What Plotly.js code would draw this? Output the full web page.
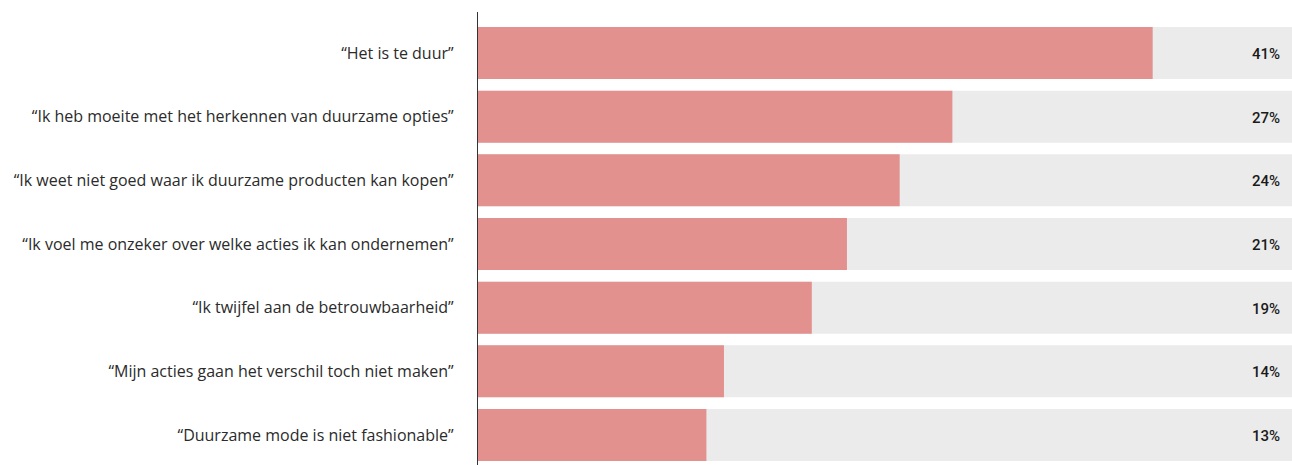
<!DOCTYPE html>
<html>
<head>
<meta charset="utf-8">
<script src="https://cdn.plot.ly/plotly-3.0.1.min.js"></script>
<style>html,body{margin:0;padding:0;background:#fff;}#chart{width:1292px;height:465px;}</style>
</head>
<body>
<div id="chart"></div>
<script>
const categories = [
  "“Het is te duur”",
  "“Ik heb moeite met het herkennen van duurzame opties”",
  "“Ik weet niet goed waar ik duurzame producten kan kopen”",
  "“Ik voel me onzeker over welke acties ik kan ondernemen”",
  "“Ik twijfel aan de betrouwbaarheid”",
  "“Mijn acties gaan het verschil toch niet maken”",
  "“Duurzame mode is niet fashionable”"
];
// bar lengths as drawn in the picture
const barValues = [38.4, 27, 24, 21, 19, 14, 13];
// value labels as printed
const valueLabels = ["41%", "27%", "24%", "21%", "19%", "14%", "13%"];

const xMax = 46.33;
const bgValues = categories.map(() => xMax);

const traces = [
  {type: 'bar', orientation: 'h', y: categories, x: bgValues,
   marker: {color: '#ebebeb'}, hoverinfo: 'skip', showlegend: false},
  {type: 'bar', orientation: 'h', y: categories, x: barValues,
   marker: {color: '#e2918e'}, showlegend: false}
];

const annotations = categories.map((c, i) => ({
  x: 1, xref: 'paper', xanchor: 'right', xshift: -10, yshift: -1,
  y: c, yref: 'y', yanchor: 'middle',
  text: valueLabels[i], showarrow: false,
  font: {family: 'Roboto, sans-serif', size: 15, color: '#1a1a1a', weight: 500}
}));

const layout = {
  width: 1292, height: 465,
  margin: {l: 478, r: 0, t: 12, b: 0},
  paper_bgcolor: '#fff', plot_bgcolor: '#fff',
  barmode: 'overlay', bargap: 0.183,
  showlegend: false,
  xaxis: {range: [0, xMax], showgrid: false, zeroline: false, showticklabels: false, showline: false, fixedrange: true},
  yaxis: {
    type: 'category', categoryorder: 'array', categoryarray: categories,
    range: [6.471, -0.644], showgrid: false, zeroline: false,
    showline: true, linecolor: '#333', linewidth: 1.2,
    ticks: '', ticklabelstandoff: 20,
    tickfont: {family: '"Open Sans", sans-serif', size: 16, color: '#2b2b2b'}
  },
  annotations: annotations
};

Plotly.newPlot('chart', traces, layout, {displayModeBar: false, staticPlot: true});
</script>
</body>
</html>
